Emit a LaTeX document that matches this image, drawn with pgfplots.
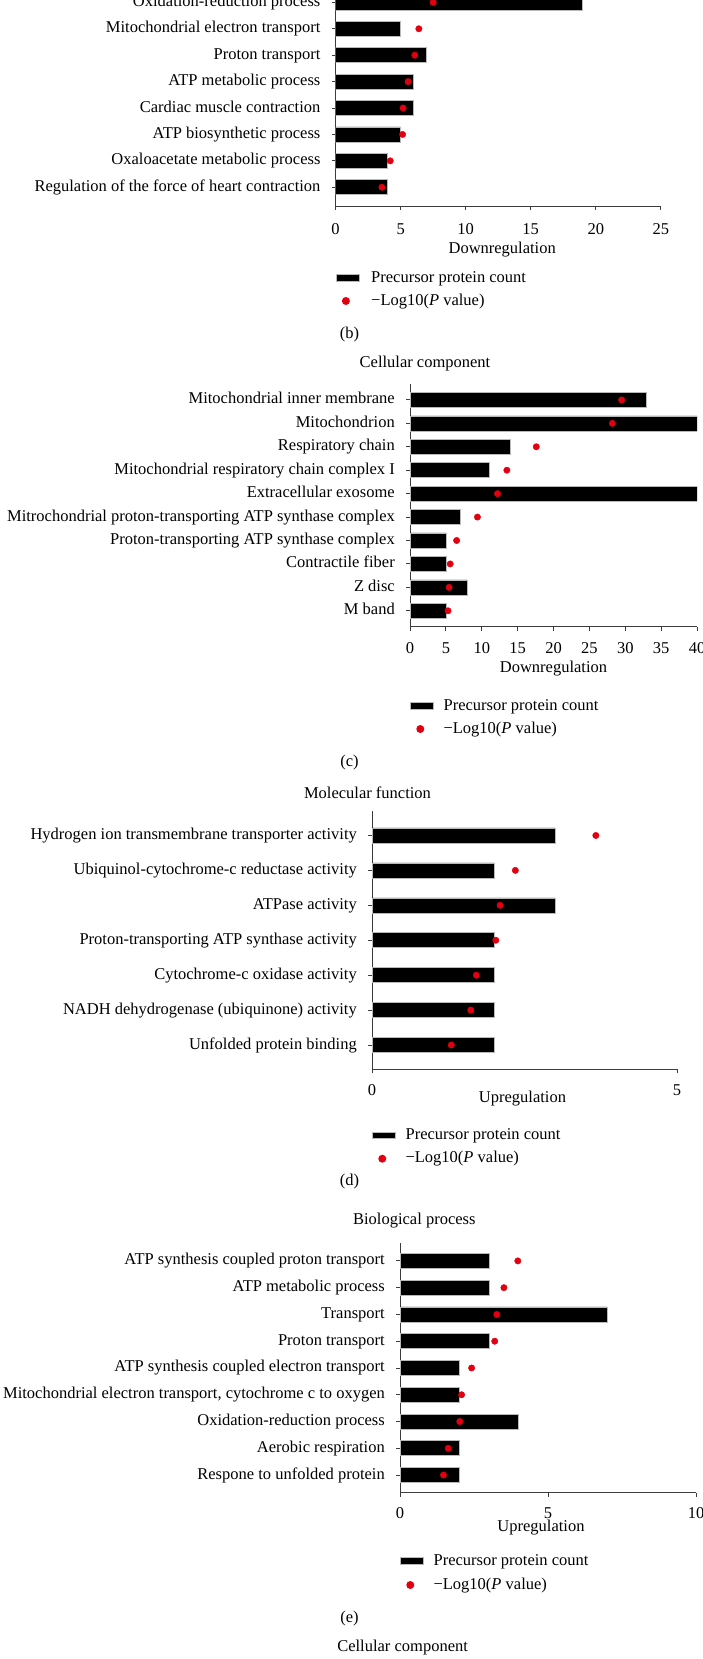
\documentclass[border=0pt]{standalone}
\usepackage{fontspec}
\setmainfont{Liberation Serif}
\usepackage{pgfplots}
\pgfplotsset{compat=1.18}
\definecolor{dotred}{RGB}{226,0,16}
\definecolor{axgray}{RGB}{60,60,60}
\newcommand{\fs}{\fontsize{16.5}{19}\selectfont}
\pgfplotsset{
  gobar/.style={
    scale only axis, anchor=south west, enlargelimits=false,
    axis x line*=bottom, axis y line*=left,
    tick align=outside, major tick length=4pt,
    axis line style={axgray, line width=0.9pt},
    tick style={axgray, line width=0.9pt},
    minor tick num=0,
    /pgf/number format/assume math mode=true,
    tick label style={font=\fs},
    yticklabel style={anchor=east, inner sep=0pt, xshift=-11pt, text height=11.5pt, text depth=3.5pt},
    xticklabel style={anchor=center, inner sep=0pt},
    x label style={at={(axis description cs:0.5,0)}, anchor=center, inner sep=0pt, font=\fs},
    legend cell align=left,
    legend style={draw=none, fill=none, inner sep=0pt, outer sep=0pt, column sep=10pt,
      nodes={inner sep=0pt, font=\fs, text height=11.5pt, text depth=3.5pt},
      at={(rel axis cs:0,0)}, anchor=north west},
  },
  barplot/.style={xbar, fill=black, draw=gray!55, line width=0.6pt, bar width=15pt,
    legend image code/.code={\draw[fill=black,draw=gray!55,line width=0.6pt] (0pt,-3.4pt) rectangle (23pt,3.4pt);}},
  dotplot/.style={only marks, mark=*, mark size=3.2pt, color=dotred, mark options={draw=dotred, fill=dotred},
    legend image code/.code={\path[draw=none,fill=none] (0pt,0pt) rectangle (23pt,0pt); \fill[dotred,draw=none] (10pt,0pt) circle (4pt);}},
}
\begin{document}
\begin{tikzpicture}[font=\fs]
\useasboundingbox (0pt,0pt) rectangle (703pt,-1659pt);
\clip (0pt,0pt) rectangle (703pt,-1659pt);

% ---------- Panel (b) ----------
\begin{axis}[gobar, at={(335.6pt,-206pt)}, width=325.2pt, height=222.4pt,
  xmin=0, xmax=25, ymin=-0.71, ymax=7.71, xtick={0,5,...,25},
  ytick={0,...,7},
  yticklabels={Regulation of the force of heart contraction, Oxaloacetate metabolic process, ATP biosynthetic process, Cardiac muscle contraction, ATP metabolic process, Proton transport, Mitochondrial electron transport, Oxidation-reduction process},
  xticklabel style={yshift=-19pt},
  xlabel={Downregulation}, x label style={yshift=-44pt, xshift=4pt},
  legend style={yshift=-64.5pt, row sep=8pt, column sep=12pt}]
\addplot[barplot] coordinates {(4,0) (4,1) (5,2) (6,3) (6,4) (7,5) (5,6) (19,7)};
\addlegendentry{Precursor protein count}
\addplot[dotplot] coordinates {(3.56,0) (4.2,1) (5.15,2) (5.19,3) (5.57,4) (6.09,5) (6.4,6) (7.5,7)};
\addlegendentry{−Log10(\textit{P} value)}
\end{axis}
\node at (349.5pt,-335pt) {(b)};

% ---------- Panel (c) ----------
\node at (425pt,-364pt) {Cellular component};
\begin{axis}[gobar, at={(410pt,-626.7pt)}, width=287pt, height=242.7pt,
  xmin=0, xmax=40, ymin=-0.68, ymax=9.68, xtick={0,5,...,40},
  ytick={0,...,9},
  yticklabels={M band, Z disc, Contractile fiber, Proton-transporting ATP synthase complex, Mitrochondrial proton-transporting ATP synthase complex, Extracellular exosome, Mitochondrial respiratory chain complex I, Respiratory chain, Mitochondrion, Mitochondrial inner membrane},
  xticklabel style={yshift=-17.3pt},
  xlabel={Downregulation}, x label style={yshift=-42.3pt},
  legend style={yshift=-71.8pt, row sep=8pt}]
\addplot[barplot] coordinates {(5,0) (8,1) (5,2) (5,3) (7,4) (43,5) (11,6) (14,7) (46,8) (33,9)};
\addlegendentry{Precursor protein count}
\addplot[dotplot] coordinates {(5.3,0) (5.45,1) (5.6,2) (6.5,3) (9.4,4) (12.2,5) (13.5,6) (17.6,7) (28.2,8) (29.5,9)};
\addlegendentry{−Log10(\textit{P} value)}
\end{axis}
\node at (349.5pt,-763pt) {(c)};

% ---------- Panel (d) ----------
\node at (367.5pt,-792.7pt) {Molecular function};
\begin{axis}[gobar, at={(372pt,-1069.3pt)}, width=305pt, height=258.3pt,
  xmin=0, xmax=5, ymin=-0.695, ymax=6.70, xtick={0,5},
  ytick={0,...,6},
  yticklabels={Unfolded protein binding, NADH dehydrogenase (ubiquinone) activity, Cytochrome-c oxidase activity, Proton-transporting ATP synthase activity, ATPase activity, Ubiquinol-cytochrome-c reductase activity, Hydrogen ion transmembrane transporter activity},
  xticklabel style={yshift=-16.4pt},
  xlabel={Upregulation}, x label style={yshift=-29pt, xshift=-2pt},
  legend style={yshift=-58.5pt, row sep=8.4pt}]
\addplot[barplot] coordinates {(2,0) (2,1) (2,2) (2,3) (3,4) (2,5) (3,6)};
\addlegendentry{Precursor protein count}
\addplot[dotplot] coordinates {(1.30,0) (1.62,1) (1.71,2) (2.03,3) (2.1,4) (2.35,5) (3.67,6)};
\addlegendentry{−Log10(\textit{P} value)}
\end{axis}
\node at (349.5pt,-1182pt) {(d)};

% ---------- Panel (e) ----------
\node at (414.3pt,-1221pt) {Biological process};
\begin{axis}[gobar, at={(400pt,-1492.7pt)}, width=296pt, height=250pt,
  xmin=0, xmax=10, ymin=-0.66, ymax=8.68, xtick={0,5,10},
  ytick={0,...,8},
  yticklabels={Respone to unfolded protein, Aerobic respiration, Oxidation-reduction process, {Mitochondrial electron transport, cytochrome c to oxygen}, ATP synthesis coupled electron transport, Proton transport, Transport, ATP metabolic process, ATP synthesis coupled proton transport},
  xticklabel style={yshift=-16pt},
  xlabel={Upregulation}, x label style={yshift=-34.6pt, xshift=-7pt},
  legend style={yshift=-60.8pt, row sep=9pt}]
\addplot[barplot] coordinates {(2,0) (2,1) (4,2) (2,3) (2,4) (3,5) (7,6) (3,7) (3,8)};
\addlegendentry{Precursor protein count}
\addplot[dotplot] coordinates {(1.47,0) (1.63,1) (2.02,2) (2.08,3) (2.42,4) (3.2,5) (3.27,6) (3.51,7) (3.98,8)};
\addlegendentry{−Log10(\textit{P} value)}
\end{axis}
\node at (349.5pt,-1618.7pt) {(e)};
\node at (402.6pt,-1647.3pt) {Cellular component};
\end{tikzpicture}
\end{document}
